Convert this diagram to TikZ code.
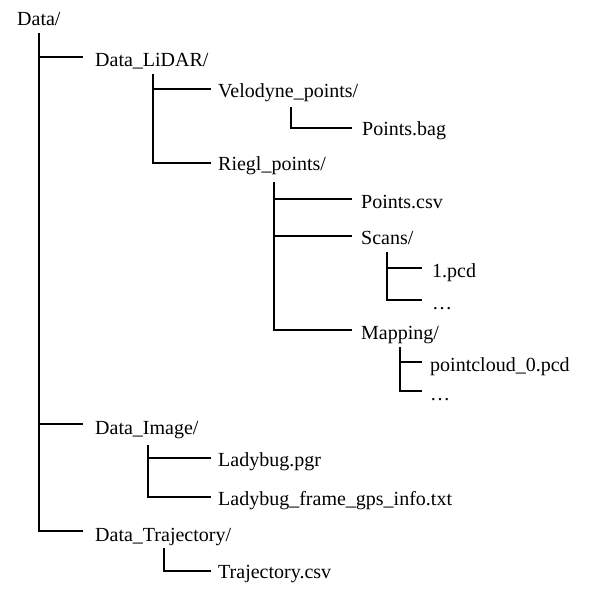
\documentclass[tikz,border=0pt]{standalone}
\usepackage{fontspec}
\setmainfont{Liberation Serif}
\begin{document}
\begin{tikzpicture}[x=1pt,y=-1pt,
  lbl/.style={anchor=base west,inner sep=0pt,font=\fontsize{20}{24}\selectfont},
  tree/.style={line width=2pt,line cap=butt}]
\useasboundingbox (0,0) rectangle (593,593);
% texts
\node[lbl] (data) at (17,26) {Data/};
\node[lbl] (lidar) at (95,67) {Data\_LiDAR/};
\node[lbl] (velo) at (218,98) {Velodyne\_points/};
\node[lbl] (pbag) at (362,136) {Points.bag};
\node[lbl] (riegl) at (218,171) {Riegl\_points/};
\node[lbl] (pcsv) at (361,209) {Points.csv};
\node[lbl] (scans) at (361,244) {Scans/};
\node[lbl] (one) at (432,277) {1.pcd};
\node[lbl] (sdots) at (432,309) {…};
\node[lbl] (mapping) at (361,339) {Mapping/};
\node[lbl] (pc0) at (430,371) {pointcloud\_0.pcd};
\node[lbl] (mdots) at (430,400) {…};
\node[lbl] (image) at (95,434) {Data\_Image/};
\node[lbl] (pgr) at (218,466) {Ladybug.pgr};
\node[lbl] (gps) at (218,505) {Ladybug\_frame\_gps\_info.txt};
\node[lbl] (traj) at (95,541) {Data\_Trajectory/};
\node[lbl] (tcsv) at (218,578) {Trajectory.csv};
% joints
\coordinate (t0) at (39,33);
\coordinate (e0a) at (83,57);
\coordinate (e0b) at (83,424);
\coordinate (e0c) at (83,531);
\coordinate (t1) at (153,74);
\coordinate (e1a) at (211,89);
\coordinate (e1b) at (211,163);
\coordinate (t2) at (291,107);
\coordinate (e2a) at (352,128);
\coordinate (t3) at (274,182);
\coordinate (e3a) at (352,199);
\coordinate (e3b) at (352,236);
\coordinate (e3c) at (352,330);
\coordinate (t4) at (387,252);
\coordinate (e4a) at (422,268);
\coordinate (e4b) at (422,300);
\coordinate (t5) at (400,347);
\coordinate (e5a) at (422,362);
\coordinate (e5b) at (422,391);
\coordinate (t6) at (148,445);
\coordinate (e6a) at (211,458);
\coordinate (e6b) at (211,497);
\coordinate (t7) at (164,548);
\coordinate (e7a) at (211,571);
% connectors
\draw[tree] (t0) |- (e0c);
\draw[tree] (t0 |- e0a) -- (e0a);
\draw[tree] (t0 |- e0b) -- (e0b);
\draw[tree] (t1) |- (e1b);
\draw[tree] (t1 |- e1a) -- (e1a);
\draw[tree] (t2) |- (e2a);
\draw[tree] (t3) |- (e3c);
\draw[tree] (t3 |- e3a) -- (e3a);
\draw[tree] (t3 |- e3b) -- (e3b);
\draw[tree] (t4) |- (e4b);
\draw[tree] (t4 |- e4a) -- (e4a);
\draw[tree] (t5) |- (e5b);
\draw[tree] (t5 |- e5a) -- (e5a);
\draw[tree] (t6) |- (e6b);
\draw[tree] (t6 |- e6a) -- (e6a);
\draw[tree] (t7) |- (e7a);
\end{tikzpicture}
\end{document}
